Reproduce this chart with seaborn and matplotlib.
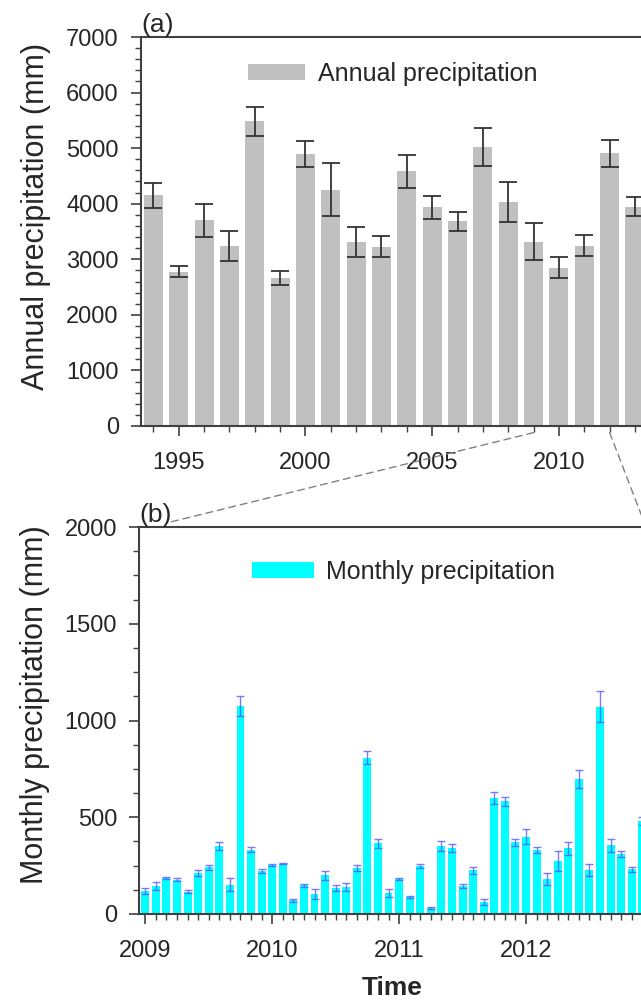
import seaborn as sns
import matplotlib.pyplot as plt
import pandas as pd
from matplotlib.patches import ConnectionPatch
from matplotlib.ticker import MultipleLocator, StrMethodFormatter

# annual totals (panel a)
years = list(range(1994, 2014))
annual = [4150, 2780, 3700, 3240, 5485, 2660, 4900, 4250, 3305, 3230,
          4580, 3935, 3680, 5020, 4030, 3320, 2850, 3245, 4910, 3945]
annual_err = [230, 100, 300, 270, 260, 125, 235, 475, 270, 185,
              290, 210, 165, 350, 355, 335, 185, 185, 245, 170]

# monthly totals (panel b), Jan..Dec
monthly_years = [2009, 2010, 2011, 2012]
monthly_2009 = [120, 145, 188, 176, 114, 212, 241, 350, 152, 1073, 333, 224]
monthly_2010 = [253, 260, 70, 148, 105, 200, 133, 140, 238, 808, 365, 110]
monthly_2011 = [180, 90, 248, 30, 350, 340, 145, 225, 60, 600, 582, 370]
monthly_2012 = [400, 330, 180, 276, 340, 698, 228, 1072, 355, 310, 230, 480]
err_2009 = [15, 20, 5, 8, 8, 16, 13, 20, 32, 52, 15, 11]
err_2010 = [5, 4, 8, 8, 25, 22, 15, 20, 15, 33, 25, 20]
err_2011 = [5, 5, 12, 5, 25, 20, 12, 18, 15, 32, 23, 17]
err_2012 = [38, 17, 30, 52, 33, 46, 31, 78, 35, 17, 13, 20]

df_a = pd.DataFrame({'year': years, 'precip': annual, 'err': annual_err})

rows = []
for y, vals, errs in zip(monthly_years,
                         [monthly_2009, monthly_2010, monthly_2011, monthly_2012],
                         [err_2009, err_2010, err_2011, err_2012]):
    for m in range(12):
        rows.append({'time': y + m / 12, 'precip': vals[m], 'err': errs[m]})
df_b = pd.DataFrame(rows)

sns.set_style("ticks")
plt.rcParams['font.family'] = ['Liberation Sans', 'DejaVu Sans']

fig = plt.figure(figsize=(6.41, 10.06), dpi=100)
# both panels run off the right edge of the picture, like the cropped original
ax1 = fig.add_axes([141 / 641, 580 / 1006, 539 / 641, 389 / 1006])
ax2 = fig.add_axes([139.3 / 641, 92 / 1006, 506.7 / 641, 387 / 1006])

# panel a
sns.barplot(data=df_a, x='year', y='precip', native_scale=True, color='#c0c0c0',
            saturation=1, width=0.75, errorbar=None, linewidth=0,
            label='Annual precipitation', ax=ax1)
ax1.errorbar(df_a['year'], df_a['precip'], yerr=df_a['err'], fmt='none',
             ecolor='#333333', elinewidth=1.3, capsize=6.5, capthick=1.3)
ax1.set_xlim(1993.513, 2014.776)
ax1.set_ylim(0, 7000)
ax1.xaxis.set_major_locator(MultipleLocator(5))
ax1.xaxis.set_minor_locator(MultipleLocator(1))
ax1.yaxis.set_major_locator(MultipleLocator(1000))
ax1.yaxis.set_minor_locator(MultipleLocator(200))
ax1.xaxis.set_major_formatter(StrMethodFormatter('{x:.0f}'))
ax1.set_xlabel('')
ax1.set_ylabel('Annual precipitation (mm)', fontsize=22)
ax1.yaxis.set_label_coords(-0.167, 0.54)
ax1.text(0, 1, '(a)', transform=ax1.transAxes, ha='left', va='bottom', fontsize=19)
ax1.legend(loc='center left', bbox_to_anchor=(0.1985, 0.905), frameon=False,
           fontsize=18, handlelength=2.3, handleheight=0.6, handletextpad=0.5,
           borderpad=0, borderaxespad=0)

# panel b
sns.barplot(data=df_b, x='time', y='precip', native_scale=True, color='#00ffff',
            saturation=1, width=0.75, errorbar=None, linewidth=0,
            label='Monthly precipitation', ax=ax2)
ax2.errorbar(df_b['time'], df_b['precip'], yerr=df_b['err'], fmt='none',
             ecolor='#5a5aff', alpha=0.8, elinewidth=1, capsize=2.8, capthick=1)
ax2.set_xlim(2008.9527, 2012.9456)
ax2.set_ylim(0, 2000)
ax2.xaxis.set_major_locator(MultipleLocator(1))
ax2.xaxis.set_minor_locator(MultipleLocator(1 / 12))
ax2.yaxis.set_major_locator(MultipleLocator(500))
ax2.yaxis.set_minor_locator(MultipleLocator(125))
ax2.xaxis.set_major_formatter(StrMethodFormatter('{x:.0f}'))
ax2.set_xlabel('Time', fontsize=19, fontweight='bold', labelpad=10)
ax2.set_ylabel('Monthly precipitation (mm)', fontsize=22)
ax2.yaxis.set_label_coords(-0.176, 0.54)
ax2.text(0, 1, '(b)', transform=ax2.transAxes, ha='left', va='bottom', fontsize=19)
ax2.legend(loc='center left', bbox_to_anchor=(0.2224, 0.884), frameon=False,
           fontsize=18, handlelength=2.5, handleheight=0.6, handletextpad=0.45,
           borderpad=0, borderaxespad=0)

for ax in (ax1, ax2):
    for side in ax.spines:
        ax.spines[side].set_color('#404040')
        ax.spines[side].set_linewidth(1.5)
    ax.tick_params(which='major', direction='out', length=7, width=1.2,
                   color='#404040', pad=9, labelsize=17)
    ax.tick_params(which='minor', direction='out', length=4, width=1,
                   color='#404040')
    ax.tick_params(axis='x', which='major', pad=12)

# dashed zoom lines from 2009-2012 in (a) to panel (b)
zoom_from, zoom_to = 2009, 2012
for xa, xb in ((zoom_from, 0.0586), (zoom_to, 1.0)):
    con = ConnectionPatch(xyA=(xa, -0.017), coordsA=ax1.get_xaxis_transform(),
                          xyB=(xb, 1.012 if xb < 1 else 1.0), coordsB=ax2.transAxes,
                          color='#808080', linewidth=1, linestyle=(0, (5, 3.5)))
    fig.add_artist(con)

fig.savefig('out.png', dpi=100)
